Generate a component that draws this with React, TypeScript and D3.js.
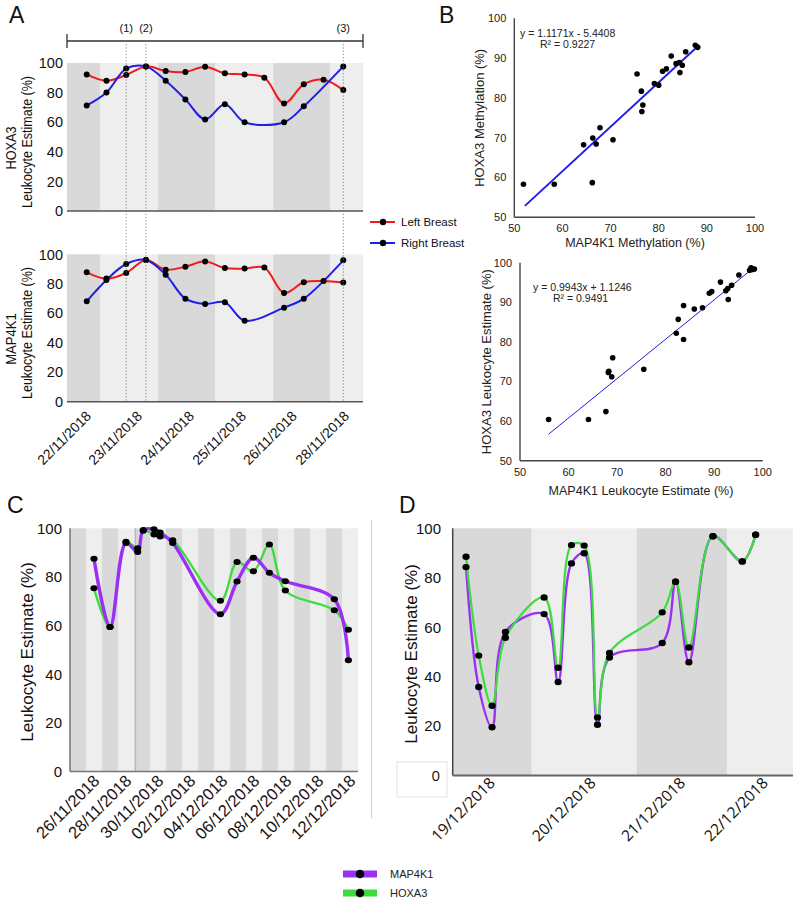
import React from "react";
import * as d3 from "d3";

const FONT = "'Liberation Sans', Arial, Helvetica, sans-serif";
const FONT_D = "'Open Sans', 'Liberation Sans', sans-serif";
const DARK = "#d9d9d9";
const LIGHT = "#eeeeee";
const RED = "#ee1c1c";
const BLUE = "#1f1fe6";
const PURPLE = "#9b30f5";
const GREEN = "#3ddc3d";

// ---------------- Panel A data ----------------
const aIdx = [0, 1, 2, 3, 4, 5, 6, 7, 8, 9, 10, 11, 12, 13];
const aRightIdx = [0, 1, 2, 3, 4, 5, 6, 7, 8, 10, 11, 13];
const aHoxa3Left = [92.3, 88.0, 91.9, 97.7, 94.6, 93.9, 97.5, 93.0, 92.3, 90.1, 72.7, 85.6, 88.7, 81.7];
const aHoxa3Right = [71.3, 80.1, 96.2, 97.7, 88.0, 75.4, 61.9, 72.2, 60.0, 60.0, 70.7, 97.7];
const aMap4k1Left = [87.8, 83.5, 87.3, 96.2, 89.6, 91.6, 95.2, 90.7, 90.3, 91.0, 73.8, 81.0, 81.9, 80.8];
const aMap4k1Right = [68.1, 82.6, 93.4, 96.2, 86.2, 69.9, 66.3, 67.4, 55.0, 63.8, 69.9, 95.9];
const aDateLabels = ["22/11/2018", "23/11/2018", "24/11/2018", "25/11/2018", "26/11/2018", "28/11/2018"];
const aDatePos = [0.27, 2.85, 5.49, 8.12, 10.7, 13.34];
const aBandEdges = [-1, 0.67, 3.6, 6.5, 9.45, 12.35, 14];
const aEvents = [2, 3, 13];
const aEventLabels = ["(1)", "(2)", "(3)"];
const yTicks = [0, 20, 40, 60, 80, 100];
const aLegend = ["Left Breast", "Right Breast"];

// ---------------- Panel B data ----------------
const bTicks = [50, 60, 70, 80, 90, 100];
const bMethX = [51.9, 58.3, 66.2, 64.4, 66.3, 67.0, 67.8, 70.5, 75.5, 76.4, 76.7, 76.5, 79.1, 80.0, 80.8, 81.6, 82.6, 83.6, 84.3, 84.4, 84.9, 85.6, 87.6, 88.1];
const bMethY = [58.3, 58.3, 58.7, 68.2, 69.9, 68.4, 72.5, 69.5, 86.0, 81.7, 78.2, 76.6, 83.6, 83.2, 86.7, 87.3, 90.5, 88.6, 88.9, 86.4, 88.2, 91.6, 93.2, 92.7];
const bFit1 = [1.1171, -5.4408];
const bFit1Range = [52.2, 88.4];
const bLeukX = [55.9, 64.1, 67.7, 68.2, 68.3, 69.1, 68.9, 75.5, 82.2, 82.6, 83.7, 83.7, 85.9, 87.6, 89.0, 89.5, 91.3, 92.4, 92.8, 92.9, 93.6, 95.1, 97.3, 97.6, 97.9, 98.3];
const bLeukY = [60.4, 60.4, 62.4, 72.3, 72.6, 76.0, 71.2, 73.1, 82.2, 85.7, 89.2, 80.6, 88.3, 88.6, 92.3, 92.7, 95.1, 92.9, 93.5, 90.7, 94.3, 96.9, 98.1, 98.7, 98.3, 98.4];
const bFit2 = [0.9943, 1.1246];
const bFit2Range = [55.9, 98.4];

// ---------------- Panel C data (days after 24/11/2018) ----------------
const cDays = [1.5, 2.5, 3.5, 4.23, 4.58, 5.25, 5.63, 6.42, 9.4, 10.44, 11.46, 12.46, 13.46, 16.52, 17.4];
const cMap4k1 = [87.5, 59.4, 94.0, 90.3, 99.3, 99.6, 98.3, 94.0, 64.7, 78.1, 87.9, 81.7, 78.2, 70.8, 45.7];
const cHoxa3 = [75.3, 59.4, 94.5, 91.8, 99.0, 97.5, 96.6, 95.1, 70.2, 86.1, 82.3, 93.3, 74.4, 66.3, 58.3];
const cLabels = ["26/11/2018", "28/11/2018", "30/11/2018", "02/12/2018", "04/12/2018", "06/12/2018", "08/12/2018", "10/12/2018", "12/12/2018"];
const cLabelDays = [2, 4, 6, 8, 10, 12, 14, 16, 18];
const cDayCount = 18;
const cMarkDays = [4.1];

// ---------------- Panel D data ----------------
const dPos = [1.0, 1.95, 2.95, 3.95, 6.85, 7.9, 8.9, 9.85, 10.85, 11.75, 15.7, 16.7, 17.7, 19.5, 21.7, 22.7];
const dMap4k1 = [84.3, 35.8, 19.5, 58.1, 65.3, 37.8, 85.8, 89.9, 20.5, 47.7, 53.6, 78.4, 45.8, 96.8, 86.6, 97.4];
const dHoxa3 = [88.5, 48.5, 28.2, 55.7, 72.0, 43.6, 93.2, 93.0, 23.5, 49.6, 66.0, 78.4, 51.8, 96.8, 86.6, 97.4];
const dLabels = ["19/12/2018", "20/12/2018", "21/12/2018", "22/12/2018"];
const dLabelPos = [3.25, 10.8, 17.5, 23.7];
const dBandEdges = [0, 5.92, 13.78, 20.57, 25.5];

const legendCD = ["MAP4K1", "HOXA3"];

type Pt = [number, number];
const curve = d3.curveCatmullRom.alpha(0.5);

function PanelASub({ yTop, yBot, title, left, right }: any) {
  const x = d3.scaleLinear().domain([-1, 14]).range([67, 363]);
  const y = d3.scaleLinear().domain([0, 100]).range([yBot, yTop]);
  const line = d3.line<Pt>().x((d) => x(d[0])).y((d) => y(d[1])).curve(curve);
  const leftPts: Pt[] = aIdx.map((i, k) => [i, left[k]]);
  const rightPts: Pt[] = aRightIdx.map((i, k) => [i, right[k]]);
  const bands = aBandEdges.slice(0, -1).map((e, i) => [e, aBandEdges[i + 1], i]);
  const mid = (yTop + yBot) / 2;
  return (
    <g>
      {bands.map(([a, b, i]) => (
        <rect key={i} x={x(a)} y={yTop} width={x(b) - x(a)} height={yBot - yTop} fill={i % 2 === 0 ? DARK : LIGHT} />
      ))}
      <line x1={x(-1)} x2={x(14)} y1={yBot} y2={yBot} stroke="#555" strokeWidth={1.5} />
      {yTicks.map((t) => (
        <text key={t} x={63} y={y(t)} dy="0.36em" textAnchor="end" fontSize={14.5} fill="#111">{t}</text>
      ))}
      <text transform={`translate(16,${mid + 11}) rotate(-90)`} textAnchor="middle" fontSize={15} fill="#111"
        textLength={title.length * 8.6} lengthAdjust="spacingAndGlyphs">{title}</text>
      <text transform={`translate(32,${mid + 5}) rotate(-90)`} textAnchor="middle" fontSize={14} fill="#111"
        textLength={132} lengthAdjust="spacingAndGlyphs">Leukocyte Estimate (%)</text>
      <path d={line(leftPts) || ""} fill="none" stroke={RED} strokeWidth={2} />
      <path d={line(rightPts) || ""} fill="none" stroke={BLUE} strokeWidth={2} />
      {leftPts.map((p, k) => <circle key={"l" + k} cx={x(p[0])} cy={y(p[1])} r={3} fill="#000" />)}
      {rightPts.map((p, k) => <circle key={"r" + k} cx={x(p[0])} cy={y(p[1])} r={3} fill="#000" />)}
    </g>
  );
}

function PanelA() {
  const x = d3.scaleLinear().domain([-1, 14]).range([67, 363]);
  return (
    <g>
      <text x={9} y={23} fontSize={23} fill="#111">A</text>
      <line x1={x(-1)} x2={x(14)} y1={41} y2={41} stroke="#333" strokeWidth={1.3} />
      <line x1={x(-1)} x2={x(-1)} y1={34} y2={48} stroke="#333" strokeWidth={1.3} />
      <line x1={x(14)} x2={x(14)} y1={34} y2={48} stroke="#333" strokeWidth={1.3} />
      <PanelASub yTop={63} yBot={211} title="HOXA3" left={aHoxa3Left} right={aHoxa3Right} />
      <PanelASub yTop={254.3} yBot={401.7} title="MAP4K1" left={aMap4k1Left} right={aMap4k1Right} />
      {aEvents.map((e, i) => (
        <g key={i}>
          <line x1={x(e)} x2={x(e)} y1={41} y2={402} stroke="#777" strokeWidth={0.9} strokeDasharray="1.2,2" />
          <text x={x(e)} y={32} textAnchor="middle" fontSize={11} fill="#111">{aEventLabels[i]}</text>
        </g>
      ))}
      {aDateLabels.map((l, i) => (
        <text key={l} transform={`translate(${x(aDatePos[i])},417) rotate(-45)`} textAnchor="end" fontSize={14} fill="#111">{l}</text>
      ))}
      <g>
        <clipPath id="legclip"><rect x={360} y={200} width={105} height={60} /></clipPath>
        <g clipPath="url(#legclip)">
          {aLegend.map((l, i) => (
            <g key={l} transform={`translate(0,${222 + i * 21})`}>
              <line x1={370} x2={395} y1={0} y2={0} stroke={i === 0 ? RED : BLUE} strokeWidth={2} />
              <circle cx={383} cy={0} r={3.2} fill="#000" />
              <text x={401} y={4} fontSize={11.5} fill="#111">{l}</text>
            </g>
          ))}
        </g>
      </g>
    </g>
  );
}

function Scatter({ xr, yr, xs, ys, fit, fitRange, fitW, eq, r2, eqPos, xTitle, yTitleX, xTitleY, xTitleCx }: any) {
  const x = d3.scaleLinear().domain([50, 100]).range(xr);
  const y = d3.scaleLinear().domain([50, 100]).range(yr);
  const [sl, ic] = fit;
  return (
    <g>
      <line x1={xr[0]} x2={xr[0]} y1={yr[1]} y2={yr[0]} stroke="#444" strokeWidth={1.4} />
      <line x1={xr[0]} x2={xr[1]} y1={yr[0]} y2={yr[0]} stroke="#444" strokeWidth={1.4} />
      {bTicks.map((t) => (
        <g key={t}>
          <text x={xr[0] - 8} y={y(t)} dy="0.36em" textAnchor="end" fontSize={11} fill="#222">{t}</text>
          <text x={x(t)} y={yr[0] + 15} textAnchor="middle" fontSize={11} fill="#222">{t}</text>
        </g>
      ))}
      <text transform={`translate(${yTitleX},${(yr[0] + yr[1]) / 2}) rotate(-90)`} textAnchor="middle" fontSize={13} fill="#222">{xTitle[1]}</text>
      <text x={xTitleCx} y={xTitleY} textAnchor="middle" fontSize={12.5} fill="#222">{xTitle[0]}</text>
      <line x1={x(fitRange[0])} y1={y(sl * fitRange[0] + ic)} x2={x(fitRange[1])} y2={y(sl * fitRange[1] + ic)} stroke={BLUE} strokeWidth={fitW} />
      {xs.map((v: number, i: number) => (
        <circle key={i} cx={x(v)} cy={y(ys[i])} r={2.8} fill="#000" />
      ))}
      <text x={eqPos[0]} y={eqPos[1]} fontSize={10.5} fill="#222">{eq}</text>
      <text x={eqPos[0] + 20} y={eqPos[1] + 11} fontSize={10.5} fill="#222">{r2}</text>
    </g>
  );
}

function PanelB() {
  return (
    <g>
      <text x={439} y={23} fontSize={23} fill="#111">B</text>
      <Scatter xr={[514.3, 755]} yr={[217.3, 18.3]} xs={bMethX} ys={bMethY} fit={bFit1} fitRange={bFit1Range} fitW={2}
        eq="y = 1.1171x - 5.4408" r2="R² = 0.9227" eqPos={[520, 37]}
        xTitle={["MAP4K1 Methylation (%)", "HOXA3 Methylation (%)"]} yTitleX={484} xTitleY={247} xTitleCx={635} />
      <Scatter xr={[520, 762.7]} yr={[460.7, 262.7]} xs={bLeukX} ys={bLeukY} fit={bFit2} fitRange={bFit2Range} fitW={1}
        eq="y = 0.9943x + 1.1246" r2="R² = 0.9491" eqPos={[533, 291]}
        xTitle={["MAP4K1 Leukocyte Estimate (%)", "HOXA3 Leukocyte Estimate (%)"]} yTitleX={491} xTitleY={495} xTitleCx={641} />
    </g>
  );
}

function PanelC() {
  const x = d3.scaleLinear().domain([0, cDayCount]).range([70, 358]);
  const y = d3.scaleLinear().domain([0, 100]).range([771.5, 528.3]);
  const line = d3.line<Pt>().x((d) => x(d[0])).y((d) => y(d[1])).curve(curve);
  const pm: Pt[] = cDays.map((d, i) => [d, cMap4k1[i]]);
  const ph: Pt[] = cDays.map((d, i) => [d, cHoxa3[i]]);
  const stripes = d3.range(cDayCount);
  return (
    <g>
      <text x={7} y={513} fontSize={23} fill="#111">C</text>
      {stripes.map((s) => (
        <rect key={s} x={x(s)} y={y(100)} width={x(s + 1) - x(s)} height={y(0) - y(100)} fill={s % 2 === 0 ? DARK : LIGHT} />
      ))}
      {cMarkDays.map((m) => <line key={m} x1={x(m)} x2={x(m)} y1={y(100)} y2={y(0)} stroke="#aaa" strokeWidth={0.8} />)}
      <line x1={x(0)} x2={x(0)} y1={y(100)} y2={y(0)} stroke="#555" strokeWidth={1.2} />
      <line x1={x(0)} x2={x(cDayCount)} y1={y(0)} y2={y(0)} stroke="#777" strokeWidth={1.5} />
      {yTicks.map((t) => (
        <text key={t} x={62} y={y(t)} dy="0.36em" textAnchor="end" fontSize={15} fill="#111">{t}</text>
      ))}
      <text transform={`translate(33,${(y(0) + y(100)) / 2 + 2}) rotate(-90)`} textAnchor="middle" fontSize={17} fill="#111">Leukocyte Estimate (%)</text>
      {cLabels.map((l, i) => (
        <text key={l} transform={`translate(${x(cLabelDays[i]) - 1.5},782) rotate(-45)`} textAnchor="end" fontSize={16.5} fill="#111">{l}</text>
      ))}
      <path d={line(ph) || ""} fill="none" stroke={GREEN} strokeWidth={2.3} />
      <path d={line(pm) || ""} fill="none" stroke={PURPLE} strokeWidth={3.4} />
      {ph.map((p, i) => <ellipse key={"h" + i} cx={x(p[0])} cy={y(p[1])} rx={3.6} ry={3} fill="#000" />)}
      {pm.map((p, i) => <ellipse key={"m" + i} cx={x(p[0])} cy={y(p[1])} rx={3.6} ry={3} fill="#000" />)}
      <line x1={371.5} x2={371.5} y1={520} y2={818} stroke="#cfcfcf" strokeWidth={1} />
    </g>
  );
}

function PanelD() {
  const x = d3.scaleLinear().domain([0, 25.5]).range([452.7, 793]);
  const y = d3.scaleLinear().domain([0, 100]).range([775.5, 528.3]);
  const line = d3.line<Pt>().x((d) => x(d[0])).y((d) => y(d[1])).curve(curve);
  const pm: Pt[] = dPos.map((d, i) => [d, dMap4k1[i]]);
  const ph: Pt[] = dPos.map((d, i) => [d, dHoxa3[i]]);
  const bands = dBandEdges.slice(0, -1).map((e, i) => [e, dBandEdges[i + 1], i]);
  return (
    <g>
      <text x={399} y={513} fontSize={23} fill="#111">D</text>
      {bands.map(([a, b, i]) => (
        <rect key={i} x={x(a)} y={y(100)} width={x(b) - x(a)} height={y(0) - y(100)} fill={i % 2 === 0 ? DARK : LIGHT} />
      ))}
      <line x1={x(0)} x2={x(0)} y1={y(100)} y2={y(0)} stroke="#444" strokeWidth={1.5} />
      <line x1={x(0)} x2={x(25.5)} y1={y(0)} y2={y(0)} stroke="#666" strokeWidth={2} />
      <rect x={397} y={762} width={50} height={35} fill="#fff" stroke="#e2e2e2" strokeWidth={1} />
      {yTicks.map((t) => (
        <text key={t} x={t === 0 ? 440 : 441} y={y(t)} dy="0.36em" textAnchor="end" fontSize={15}
          fontFamily={t === 0 ? FONT_D : FONT} fill="#111">{t}</text>
      ))}
      <text transform={`translate(417,${(y(0) + y(100)) / 2 + 2}) rotate(-90)`} textAnchor="middle" fontSize={17} fill="#111">Leukocyte Estimate (%)</text>
      {dLabels.map((l, i) => (
        <text key={l} transform={`translate(${x(dLabelPos[i])},784) rotate(-45)`} textAnchor="end" fontSize={15.5}
          fontFamily={FONT_D} fill="#111">{l}</text>
      ))}
      <path d={line(pm) || ""} fill="none" stroke={PURPLE} strokeWidth={2.4} />
      <path d={line(ph) || ""} fill="none" stroke={GREEN} strokeWidth={2.2} />
      {ph.map((p, i) => <ellipse key={"h" + i} cx={x(p[0])} cy={y(p[1])} rx={3.6} ry={3.2} fill="#000" />)}
      {pm.map((p, i) => <ellipse key={"m" + i} cx={x(p[0])} cy={y(p[1])} rx={3.6} ry={3.2} fill="#000" />)}
    </g>
  );
}

function LegendCD() {
  const colors = [PURPLE, GREEN];
  return (
    <g>
      {legendCD.map((l, i) => (
        <g key={l} transform={`translate(0,${874 + i * 19})`}>
          <rect x={343} y={-3.5} width={34} height={7} fill={colors[i]} />
          <circle cx={360} cy={0} r={4.3} fill="#000" />
          <text x={390} y={4} fontSize={11} fill="#222">{l}</text>
        </g>
      ))}
    </g>
  );
}

export default function App() {
  return (
    <svg width={796} height={902} viewBox="0 0 796 902"
      style={{ position: "absolute", left: 0, top: 0, background: "#fff", fontFamily: FONT }}>
      <rect x={0} y={0} width={796} height={902} fill="#fff" />
      <PanelA />
      <PanelB />
      <PanelC />
      <PanelD />
      <LegendCD />
    </svg>
  );
}
